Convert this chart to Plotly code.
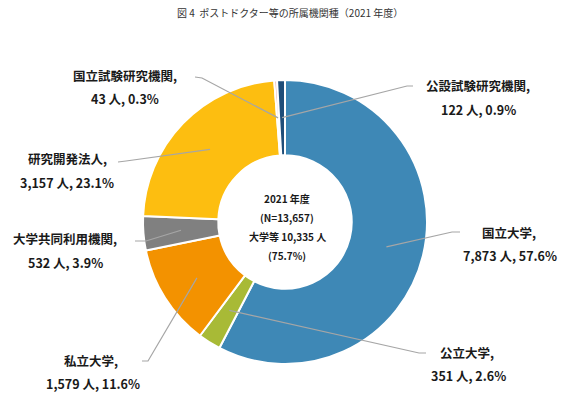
import math
import plotly.graph_objects as go

W, H = 567, 399

categories = ["国立大学", "公立大学", "私立大学", "大学共同利用機関", "研究開発法人", "国立試験研究機関", "公設試験研究機関"]
values = [7873, 351, 1579, 532, 3157, 43, 122]
percents = ["57.6%", "2.6%", "11.6%", "3.9%", "23.1%", "0.3%", "0.9%"]
colors = ["#3E88B6", "#A8BA36", "#F39200", "#808080", "#FDBE10", "#E9A7A0", "#1F4E79"]

title_text = "図 4  ポストドクター等の所属機関種（2021 年度）"
center_lines = ["2021 年度", "(N=13,657)", "大学等 10,335 人", "(75.7%)"]

# layout: label line centres (px): (x1, y1, x2, y2), leader elbow and tail ends (px)
label_pos = [(509, 232, 510, 255), (467, 352, 468, 375), (91, 360, 93, 383),
             (65, 238, 65, 262), (67, 158, 67, 182), (125, 75, 125, 98), (478, 85, 478, 109)]
elbows = [((452, 232), (460, 232)), ((419, 353), (426, 353)), ((148, 361), (142, 361)),
          ((146, 241), (135, 241)), ((126, 161), (118, 162)), ((202, 78), (195, 77)),
          ((407, 86), (413, 86))]

CX, CY, R = 285, 222, 142
HOLE = 0.47
FONT = "Noto Sans CJK JP"

fig = go.Figure()
fig.add_trace(go.Pie(
    labels=categories, values=values, sort=False, direction="clockwise", rotation=0,
    hole=HOLE, marker=dict(colors=colors, line=dict(color="white", width=2)),
    textinfo="none", hoverinfo="label+value+percent", showlegend=False,
    domain=dict(x=[(CX - R) / W, (CX + R) / W], y=[1 - (CY + R) / H, 1 - (CY - R) / H]),
))

# hidden pixel-space axes for labels and leader lines
fig.add_trace(go.Scatter(x=[0, W], y=[0, H], mode="markers", marker=dict(opacity=0),
                         hoverinfo="skip", showlegend=False))

total = sum(values)
cum = 0
r_in = R * (1 + HOLE) / 2
for i, (cat, v) in enumerate(zip(categories, values)):
    mid = (cum + v / 2) / total
    cum += v
    ang = math.radians(90 - mid * 360)
    px, py = CX + r_in * math.cos(ang), CY - r_in * math.sin(ang)
    (ex, ey), (tx, ty) = elbows[i]
    fig.add_shape(type="path", xref="x", yref="y", layer="above",
                  path=f"M {px:.1f},{py:.1f} L {ex},{ey} L {tx},{ty}",
                  line=dict(color="#A6A6A6", width=1.2))
    x1, y1, x2, y2 = label_pos[i]
    fig.add_annotation(x=x1, y=y1, xref="x", yref="y", showarrow=False,
                       text=f"<b>{cat},</b>",
                       font=dict(family=FONT, size=12.5, color="#1a1a1a"))
    fig.add_annotation(x=x2, y=y2, xref="x", yref="y", showarrow=False,
                       text=f"<b>{v:,} 人, {percents[i]}</b>",
                       font=dict(family=FONT, size=12.5, color="#1a1a1a"))

for k, line in enumerate(center_lines):
    fig.add_annotation(x=CX + 2, y=198 + k * 19, xref="x", yref="y", showarrow=False,
                       text=f"<b>{line}</b>", font=dict(family=FONT, size=10, color="#1a1a1a"))

fig.add_annotation(x=290, y=12, xref="x", yref="y", showarrow=False, text=title_text,
                   font=dict(family=FONT, size=10, color="#333333"))

fig.update_layout(
    width=W, height=H, margin=dict(l=0, r=0, t=0, b=0),
    paper_bgcolor="white", plot_bgcolor="rgba(0,0,0,0)",
    xaxis=dict(range=[0, W], visible=False, domain=[0, 1], fixedrange=True),
    yaxis=dict(range=[H, 0], visible=False, domain=[0, 1], fixedrange=True),
)

fig.write_html("out.html", config={"displayModeBar": False},
               post_script="document.body.style.margin='0';document.body.style.overflow='hidden';")
